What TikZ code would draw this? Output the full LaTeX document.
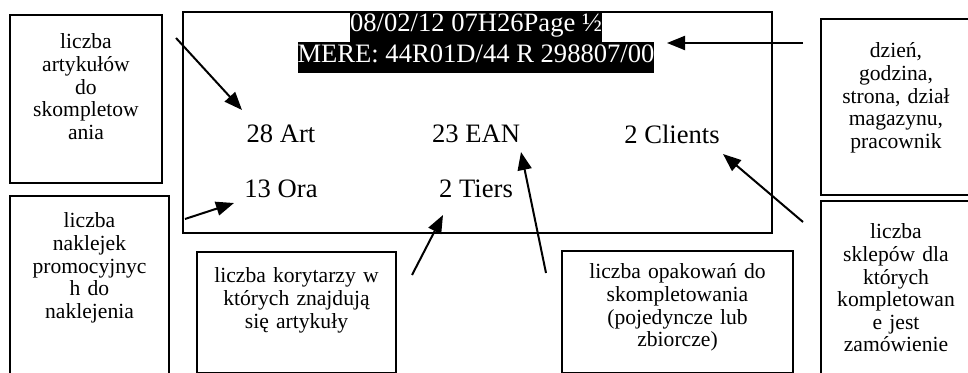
\documentclass[tikz,border=0pt]{standalone}
\usepackage{fontspec}
\setmainfont{Liberation Serif}
\usetikzlibrary{arrows.meta, positioning}

\begin{document}
\begin{tikzpicture}[x=0.5pt, y=-0.5pt,
    note/.style={draw, rectangle, line width=1pt, anchor=north west, inner sep=0pt, align=center, font=\fontsize{10.8}{11.3}\selectfont},
    screen/.style={font=\fontsize{13.3}{16}\selectfont},
    head/.style={fill=black, text=white, inner sep=0pt, anchor=north, text height=10pt, text depth=5.5pt, font=\fontsize{13.3}{14}\selectfont},
    pointer/.style={-{Triangle[length=9pt,width=7pt]}, line width=1pt}]
    \useasboundingbox (0,0) rectangle (968,373);

    % Screen
    \node (display) [draw, rectangle, line width=0.9pt, anchor=north west, inner sep=0pt, minimum width=294.5pt, minimum height=110.5pt] at (182,11) {};
    \node (date) [head] at (476,11) {08/02/12 07H26Page ½};
    \node (mere) [head, below of=date, node distance=15.5pt] {MERE: 44R01D/44 R 298807/00};
    \node (art) [screen] at (281,134) {28 Art};
    \node (ean) [screen, right of=art, node distance=97.5pt] {23 EAN};
    \node (clients) [screen, right of=ean, node distance=98pt] {2 Clients};
    \node (ora) [screen, below of=art, node distance=27.5pt] {13 Ora};
    \node (tiers) [screen, below of=ean, node distance=27.5pt] {2 Tiers};

    % Notes
    \node (artnote) [note, text width=76pt, text height=17pt, text depth=67pt] at (9,14) {liczba\\artykułów\\do\\skompletow\\ania};
    \node (oranote) [note, text width=79.5pt, text height=16pt, text depth=74.5pt] at (9,195) {liczba\\naklejek\\promocyjnyc\\h do\\naklejenia};
    \node (tiersnote) [note, text width=99.5pt, text height=15.5pt, text depth=45pt] at (196,251) {liczba korytarzy w\\których znajdują\\się artykuły};
    \node (eannote) [note, text width=115.5pt, text height=14pt, text depth=47pt] at (561,250) {liczba opakowań do\\skompletowania\\(pojedyncze lub\\zbiorcze)};
    \node (headnote) [note, text width=75pt, text height=19.5pt, text depth=68.5pt] at (820,18) {dzień,\\godzina,\\strona, dział\\magazynu,\\pracownik};
    \node (clientsnote) [note, text width=75pt, text height=19pt, text depth=69pt] at (820,200) {liczba\\sklepów dla\\których\\kompletowan\\e jest\\zamówienie};

    % Arrow ends
    \coordinate (artfrom) at (176,38);
    \coordinate (artto) at (242,110);
    \coordinate (headfrom) at (803,43);
    \coordinate (headto) at (667,43);
    \coordinate (clientsfrom) at (803,222);
    \coordinate (clientsto) at (723,154);
    \coordinate (eanfrom) at (546,273);
    \coordinate (eanto) at (521,152);
    \coordinate (tiersfrom) at (412,275);
    \coordinate (tiersto) at (443,215);
    \coordinate (orafrom) at (185,219);
    \coordinate (orato) at (234,203);

    % Connections
    \draw[pointer] (artfrom) -- (artto);
    \draw[pointer] (headfrom) -- (headto);
    \draw[pointer] (clientsfrom) -- (clientsto);
    \draw[pointer] (eanfrom) -- (eanto);
    \draw[pointer] (tiersfrom) -- (tiersto);
    \draw[pointer] (orafrom) -- (orato);
\end{tikzpicture}
\end{document}
